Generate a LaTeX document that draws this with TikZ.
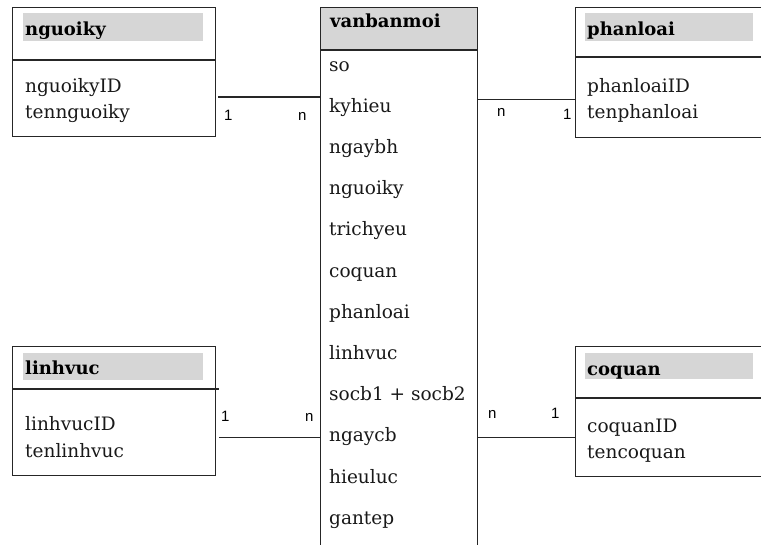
\documentclass[tikz,border=0pt]{standalone}
\usepackage{fontspec}
\setmainfont{DejaVu Serif}
\newfontfamily\cardfont{Liberation Sans}
\begin{document}
\begin{tikzpicture}[x=1pt,y=-1pt,
  ent/.style={draw=black!85, line width=1.2pt, rectangle, inner sep=0pt, anchor=north west},
  hl/.style={fill=black!16, draw=none},
  txt/.style={anchor=base west, inner sep=0pt, font=\fontsize{18.5}{20}\selectfont, text=black!90},
  hd/.style={anchor=base west, inner sep=0pt, font=\fontsize{18}{20}\selectfont\bfseries},
  card/.style={anchor=base west, inner sep=0pt, font=\cardfont\fontsize{15}{17}\selectfont},
  conn/.style={draw=black!85, line width=1.2pt}]

\useasboundingbox[fill=white] (0,0) rectangle (761,544);

% highlights
\fill[hl] (23,13) rectangle (203,41);
\fill[hl] (23,353) rectangle (203,380);
\fill[hl] (585,13) rectangle (753,41);
\fill[hl] (585,353) rectangle (753,379);
\fill[hl] (320,7) rectangle (477,50);

% entity boxes
\node[ent, minimum width=203pt, minimum height=129pt] (nguoiky) at (12,7) {};
\node[ent, minimum width=203pt, minimum height=129pt] (linhvuc) at (12,346) {};
\node[ent, minimum width=200pt, minimum height=130pt] (phanloai) at (575,7) {};
\node[ent, minimum width=200pt, minimum height=130pt] (coquan) at (575,346) {};
\node[ent, minimum width=157pt, minimum height=560pt] (vanbanmoi) at (320,7) {};

% header separators
\draw[conn] (nguoiky.west |- 0,60) -- (nguoiky.east |- 0,60);
\draw[conn] (linhvuc.west |- 0,389) -- ([xshift=3pt]linhvuc.east |- 0,389);
\draw[conn] (phanloai.west |- 0,57) -- (phanloai.east |- 0,57);
\draw[conn] (coquan.west |- 0,398) -- (coquan.east |- 0,398);
\draw[conn] (vanbanmoi.west |- 0,50) -- (vanbanmoi.east |- 0,50);

% headers
\node[hd] (hnguoiky) at (25,35) {nguoiky};
\node[hd] (hlinhvuc) at (25,374) {linhvuc};
\node[hd] (hphanloai) at (587,35) {phanloai};
\node[hd] (hcoquan) at (587,375) {coquan};
\node[hd] (hvanban) at (330,27) {vanbanmoi};

% fields of side tables
\node[txt] (f1) at (25,92) {nguoikyID};
\node[txt] (f2) at (25,118) {tennguoiky};
\node[txt] (f3) at (25,430) {linhvucID};
\node[txt] (f4) at (25,457) {tenlinhvuc};
\node[txt] (f5) at (587,92) {phanloaiID};
\node[txt] (f6) at (587,118) {tenphanloai};
\node[txt] (f7) at (587,432) {coquanID};
\node[txt] (f8) at (587,458) {tencoquan};

% fields of vanbanmoi
\foreach \t [count=\i from 0] in {so,kyhieu,ngaybh,nguoiky,trichyeu,coquan,phanloai,linhvuc,{socb1 + socb2},ngaycb,hieuluc,gantep}
  \node[txt] (v\i) at (329,71+41.2*\i) {\t};

% connectors
\draw[conn] ([xshift=2pt]nguoiky.east |- 0,97) -- (vanbanmoi.west |- 0,97);
\draw[conn] (vanbanmoi.east |- 0,99.5) -- (phanloai.west |- 0,99.5);
\draw[conn] ([xshift=3pt]linhvuc.east |- 0,437.5) -- (vanbanmoi.west |- 0,437.5);
\draw[conn] (vanbanmoi.east |- 0,437.5) -- (coquan.west |- 0,437.5);

% cardinalities
\node[card] (c1) at (224,120) {1};
\node[card] (c2) at (298,120) {n};
\node[card] (c3) at (497,116) {n};
\node[card] (c4) at (563,119) {1};
\node[card] (c5) at (221,421) {1};
\node[card] (c6) at (305,421) {n};
\node[card] (c7) at (488,418) {n};
\node[card] (c8) at (551,418) {1};
\end{tikzpicture}
\end{document}
